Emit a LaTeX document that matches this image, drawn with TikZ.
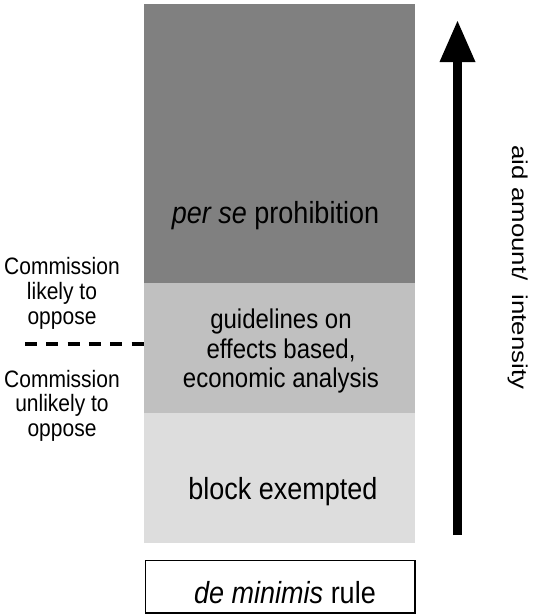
\documentclass[tikz,border=0pt]{standalone}
\usepackage{fontspec}
\setmainfont{Liberation Sans}
\usetikzlibrary{arrows.meta}
\definecolor{darkband}{HTML}{808080}
\definecolor{midband}{HTML}{C0C0C0}
\definecolor{lightband}{HTML}{DDDDDD}
\newcommand{\vst}[1]{\scalebox{1}[1.13]{\begin{tabular}{@{}c@{}}#1\end{tabular}}}
\newcommand{\vsl}[1]{\scalebox{1}[1.13]{#1}}
\begin{document}
\begin{tikzpicture}[x=1pt,y=-1pt,
  band/.style={draw=none,inner sep=0pt,outer sep=0pt,minimum width=271pt,anchor=north west},
  bigtext/.style={anchor=base,inner sep=0pt,font=\fontsize{27}{31}\selectfont},
  sidelab/.style={inner sep=0pt,font=\fontsize{21}{21.7}\selectfont},
  midlab/.style={inner sep=0pt,font=\fontsize{24}{25.7}\selectfont}]
\useasboundingbox (0,0) rectangle (536,614);
% bands
\node[band,fill=darkband,minimum height=279pt] (p) at (144,4) {};
\node[band,fill=midband,minimum height=130pt] (g) at (144,283) {};
\node[band,fill=lightband,minimum height=130pt] (b) at (144,413) {};
\node[draw,line width=1.5pt,inner sep=0pt,anchor=north west,
      minimum width=269.5pt,minimum height=52.5pt] (d) at (144.75,559.75) {};
% texts
\node[bigtext] (pt) at (275.5,223) {\vsl{\textit{per se} prohibition}};
\node[midlab] (gt) at (281,352.2) {\vst{guidelines on\\effects based,\\economic analysis}};
\node[bigtext] (bt) at (283,499) {\vsl{block exempted}};
\node[bigtext] (dt) at (285,603) {\vsl{\textit{de minimis} rule}};
\node[sidelab] (c1) at (62,294.6) {\vst{Commission\\likely to\\oppose}};
\node[sidelab] (c2) at (62,407) {\vst{Commission\\unlikely to\\oppose}};
% dashed divider
\coordinate (dl) at (25,344);
\draw[line width=3.5pt,dash pattern=on 12pt off 9.3pt] (dl) -- (dl -| g.west);
% arrow
\coordinate (a0) at (457.5,535);
\coordinate (a1) at (457.5,21);
\draw[line width=9pt,-{Triangle[width=36pt,length=41pt,line width=0pt]}] (a0) -- (a1);
\node[rotate=-90,inner sep=0pt,font=\fontsize{21.5}{25}\selectfont] (ax) at (517.6,267.5)
  {\scalebox{1.2}[1]{aid amount/\ \ intensity}};
\end{tikzpicture}
\end{document}
